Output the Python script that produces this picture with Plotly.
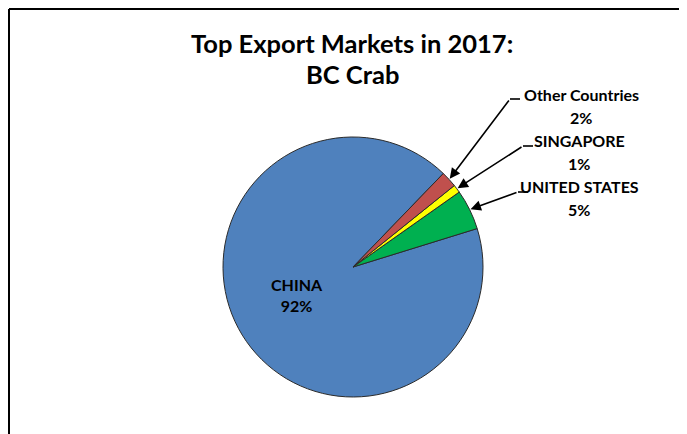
import math
import plotly.graph_objects as go

# ---- data ----
labels = ["CHINA", "UNITED STATES", "SINGAPORE", "Other Countries"]
values = [92, 5, 1, 2]
colors = ["#4F81BD", "#00B050", "#FFFF00", "#C0504D"]
title_lines = ["Top Export Markets in 2017:", "BC Crab"]

# page is offset by the 8px body margin
OFF = 8
W, H = 687 - OFF, 434 - OFF
FONT = "Lato"

# pie geometry (page pixels)
cx, cy, r = 353, 267, 130
start_deg = 46  # math angle where the counterclockwise run of slices ends (top of "Other")

total = sum(values)
china_span = values[0] / total * 360
# point where China begins when walking clockwise, in math degrees
china_cw_start = start_deg + china_span - 360


def px(x, y):
    return (x - OFF) / W, 1 - (y - OFF) / H


fig = go.Figure()
dx0, dy1 = px(cx - r, cy - r)
dx1, dy0 = px(cx + r, cy + r)
fig.add_trace(go.Pie(
    labels=labels, values=values, sort=False, direction="counterclockwise",
    rotation=90 - china_cw_start,
    marker=dict(colors=colors, line=dict(color="#2b2b2b", width=1)),
    textinfo="none", hoverinfo="label+percent", showlegend=False,
    domain=dict(x=[dx0, dx1], y=[dy0, dy1]),
))

# mid angles of slices (math degrees)
mids = [china_cw_start - china_span / 2]
acc = china_cw_start
for v in values[1:]:
    span = v / total * 360
    mids.append(acc + span / 2)
    acc += span

annotations = []
shapes = []


def text_ann(x, y, text, size):
    ax_, ay_ = px(x, y)
    return dict(x=ax_, y=ay_, xref="paper", yref="paper", text=text, showarrow=False,
                font=dict(family=FONT, size=size, color="black"),
                xanchor="center", yanchor="middle", align="center")


# title
for text, ty in zip(title_lines, [43, 74]):
    annotations.append(text_ann(352, ty, "<b>%s</b>" % text, 25.5))

LS = 16
# China label inside
annotations.append(text_ann(297, 295, "<b>CHINA<br>%d%%</b>" % values[0], LS))

# outside labels: (label text center x, label y, pct y, tail x, tail y)
outside = {
    3: (581, 95, 117, 510, 99),
    2: (579, 141, 163, 523, 146),
    1: (579, 187, 209, 518, 192),
}
for i, (tx, ly, py, tailx, taily) in outside.items():
    ang = math.radians(mids[i])
    tipx = cx + (r + 1) * math.cos(ang)
    tipy = cy - (r + 1) * math.sin(ang)
    annotations.append(text_ann(tx, ly, "<b>%s</b>" % labels[i], LS))
    annotations.append(text_ann(tx, py, "<b>%d%%</b>" % values[i], LS))
    annotations.append(dict(x=px(tipx, 0)[0], y=px(0, tipy)[1], xref="paper", yref="paper",
                            text="", showarrow=True, ax=tailx - tipx, ay=taily - tipy,
                            arrowhead=2, arrowsize=1.3, arrowwidth=1.6, arrowcolor="black"))
    x0, y0 = px(tailx, taily)
    x1, _ = px(tailx + 10, taily)
    shapes.append(dict(type="line", xref="paper", yref="paper", x0=x0, y0=y0, x1=x1, y1=y0,
                       line=dict(color="black", width=1.6)))

# chart border (top and left edges visible)
bx0, by0 = px(9, 9)
bx1, by1 = px(720, 460)
shapes.append(dict(type="line", xref="paper", yref="paper", x0=bx0, y0=by0, x1=bx1, y1=by0,
                   line=dict(color="black", width=2)))
shapes.append(dict(type="line", xref="paper", yref="paper", x0=bx0, y0=by0, x1=bx0, y1=by1,
                   line=dict(color="black", width=2)))

fig.update_layout(width=W, height=H, margin=dict(l=0, r=0, t=0, b=0),
                  paper_bgcolor="white", plot_bgcolor="white",
                  annotations=annotations, shapes=shapes)
fig.write_html("out.html")
